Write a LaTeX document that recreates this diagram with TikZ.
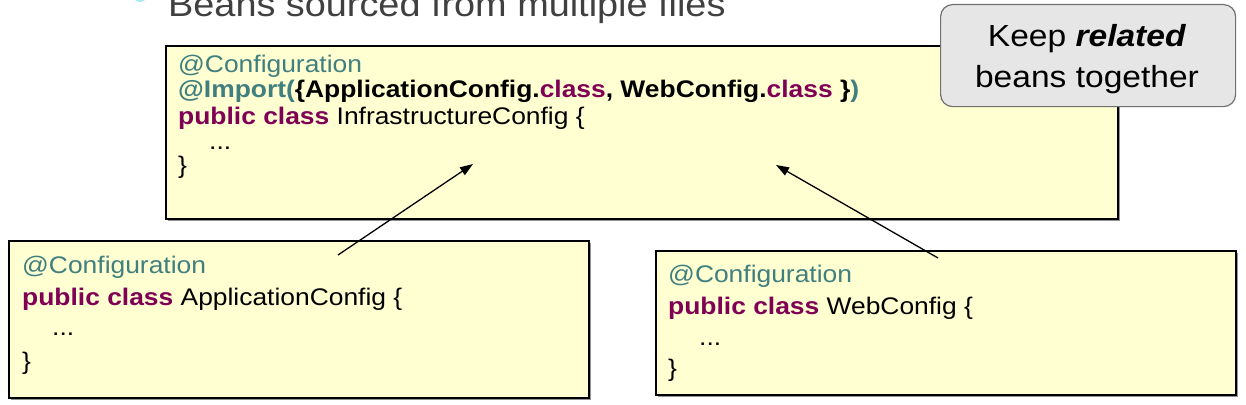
\documentclass[tikz,border=0pt]{standalone}
\usepackage{fontspec}
\setmainfont{Liberation Sans}[FakeStretch=1.1]
\usetikzlibrary{arrows.meta,shadows}
\definecolor{anno}{HTML}{3F7F7F}
\definecolor{kw}{HTML}{7F0055}
\definecolor{boxfill}{HTML}{FFFFD2}
\definecolor{titlegray}{HTML}{404040}
\definecolor{notefill}{HTML}{E6E6E6}
\definecolor{noteline}{HTML}{707070}
\definecolor{bulletcyan}{HTML}{A8E8F0}
\begin{document}
\begin{tikzpicture}[x=1pt,y=-1pt,
  codebox/.style={draw=black, line width=1.8pt, fill=boxfill, inner sep=0pt, anchor=north west,
    drop shadow={shadow xshift=2.5pt, shadow yshift=-2.5pt, fill=gray!85, opacity=1}},
  codeline/.style={anchor=base west, inner sep=0pt, font=\fontsize{24}{24}\selectfont},
  notebox/.style={draw=noteline, line width=1.2pt, fill=notefill, rounded corners=12pt, anchor=north west, inner sep=0pt},
  notetext/.style={anchor=base, inner sep=0pt, font=\fontsize{30.5}{30.5}\selectfont},
  conn/.style={line width=1.3pt, -{Triangle[length=13pt,width=9pt]}}]
\useasboundingbox (0,0) rectangle (1246,404);
\clip (0,0) rectangle (1246,404);
\fill[white] (0,0) rectangle (1246,404);
% title (cut off at top, as in the reference)
\fill[bulletcyan] (140,-5) circle (7);
\node[anchor=base west, inner sep=0pt, text=titlegray, font=\fontsize{34.4}{34.4}\selectfont] (title) at (168,17) {Beans sourced from multiple files};
% top box
\node[codebox, minimum width=952pt, minimum height=173pt] (infra) at (165,45) {};
\node[codeline, text=anno] (i1) at (178,72.7) {@Configuration};
\node[codeline] (i2) at (178,97) {\bfseries\textcolor{anno}{@Import(}\{ApplicationConfig.\textcolor{kw}{class}, WebConfig.\textcolor{kw}{class} \}\textcolor{anno}{)}};
\node[codeline] (i3) at (178,124) {\textcolor{kw}{\bfseries public class} InfrastructureConfig \{};
\node[codeline] (i4) at (209,149) {...};
\node[codeline] (i5) at (178,173) {\}};
% left box
\node[codebox, minimum width=580pt, minimum height=157pt] (app) at (8,240) {};
\node[codeline, text=anno] (a1) at (22,273) {@Configuration};
\node[codeline] (a2) at (22,305.5) {\textcolor{kw}{\bfseries public class} ApplicationConfig \{};
\node[codeline] (a3) at (52,335) {...};
\node[codeline] (a4) at (22,369) {\}};
% right box
\node[codebox, minimum width=580pt, minimum height=144pt] (web) at (655,250) {};
\node[codeline, text=anno] (w1) at (668,282) {@Configuration};
\node[codeline] (w2) at (668,314) {\textcolor{kw}{\bfseries public class} WebConfig \{};
\node[codeline] (w3) at (699,345.5) {...};
\node[codeline] (w4) at (668,376) {\}};
% callout
\node[notebox, minimum width=295pt, minimum height=102pt] (note) at (940,4) {};
\node[notetext] (n1) at (1087,47) {Keep \textbf{\textit{related}}};
\node[notetext] (n2) at (1087,87) {beans together};
% connectors
\coordinate (s1) at (338,255);
\coordinate (t1) at (473,164);
\coordinate (s2) at (938,258);
\coordinate (t2) at (776,165);
\draw[conn] (s1) -- (t1);
\draw[conn] (s2) -- (t2);
\end{tikzpicture}
\end{document}
